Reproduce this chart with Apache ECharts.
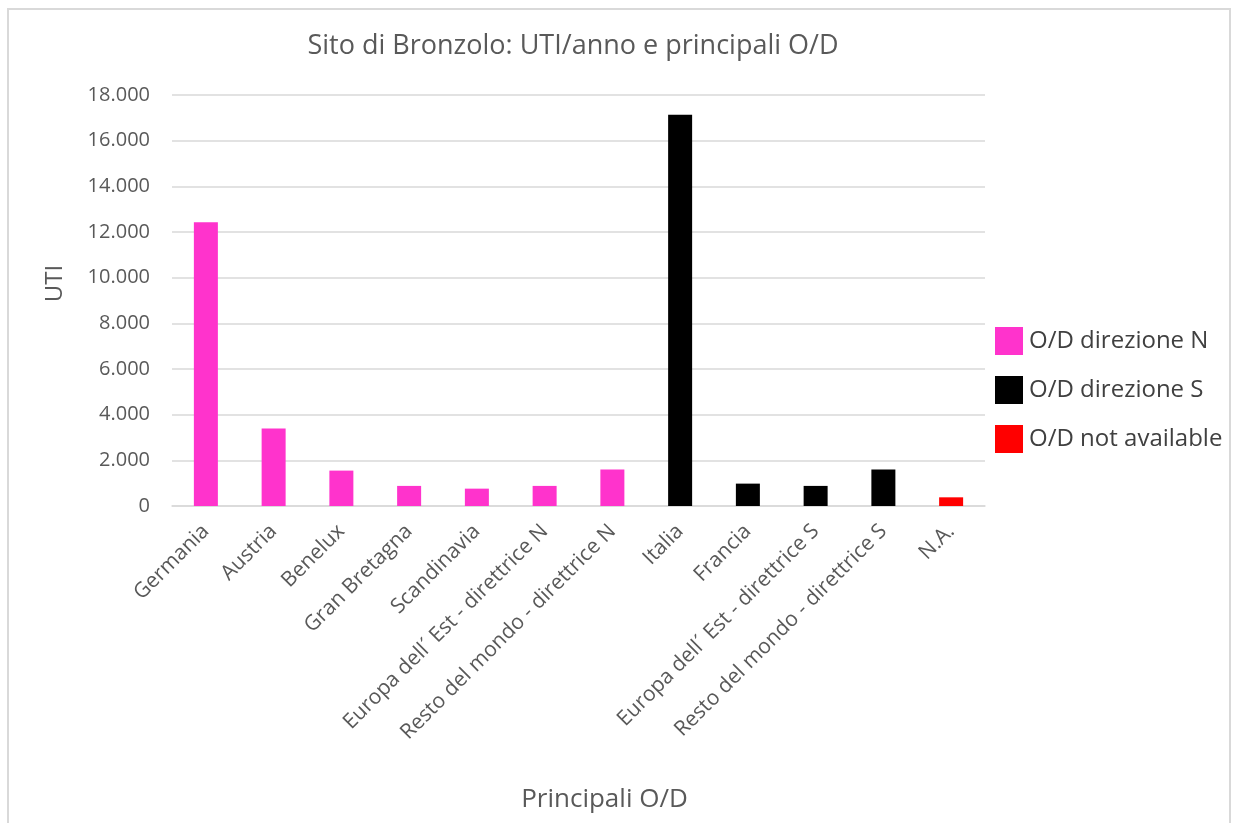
<!DOCTYPE html>
<html>
<head>
<meta charset="utf-8">
<script src="https://cdn.jsdelivr.net/npm/echarts@6/dist/echarts.min.js"></script>
<style>
  html, body { margin: 0; padding: 0; background: #fff; }
  #chart { width: 1234px; height: 823px; }
</style>
</head>
<body>
<div id="chart"></div>
<script>
// Origini/destinazioni principali del sito di Bronzolo
const categories = [
  'Germania', 'Austria', 'Benelux', 'Gran Bretagna', 'Scandinavia',
  'Europa dell\u00b4 Est - direttrice N', 'Resto del mondo - direttrice N',
  'Italia', 'Francia', 'Europa dell\u00b4 Est - direttrice S',
  'Resto del mondo - direttrice S', 'N.A.'
];

// UTI/anno per direzione (null dove la categoria non appartiene alla serie)
const direzioneN = [12430, 3390, 1550, 880, 760, 880, 1600, null, null, null, null, null];
const direzioneS = [null, null, null, null, null, null, null, 17140, 980, 880, 1600, null];
const notAvailable = [null, null, null, null, null, null, null, null, null, null, null, 380];

const seriesNames = ['O/D direzione N', 'O/D direzione S', 'O/D not available'];
const seriesColors = ['#ff33cc', '#000000', '#ff0000'];

const yTicks = { min: 0, max: 18000, interval: 2000 };

const fontFamily = '"Open Sans", "Noto Sans", sans-serif';
const textGray = '#595959';
const gridGray = '#d9d9d9';

const chart = echarts.init(document.getElementById('chart'), null, { renderer: 'canvas' });

const fmt = v => String(v).replace(/\B(?=(\d{3})+(?!\d))/g, '.');

const makeSeries = (name, data, color) => ({
  name,
  type: 'bar',
  stack: 'od',
  data,
  barWidth: 24,
  itemStyle: { color },
  emphasis: { disabled: true }
});

chart.setOption({
  animation: false,
  backgroundColor: '#ffffff',
  textStyle: { fontFamily },
  title: {
    text: 'Sito di Bronzolo: UTI/anno e principali O/D',
    left: 568,
    top: 28,
    textAlign: 'center',
    textStyle: { fontFamily, fontSize: 27, fontWeight: 'normal', color: textGray }
  },
  graphic: [{
    type: 'polyline',
    silent: true,
    shape: { points: [[8, 823], [8, 9], [1230, 9], [1230, 823]] },
    style: { stroke: gridGray, lineWidth: 2, fill: null }
  }],
  legend: {
    orient: 'vertical',
    left: 990,
    top: 322,
    itemWidth: 28,
    itemHeight: 28,
    itemGap: 21,
    icon: 'rect',
    data: seriesNames,
    textStyle: { fontFamily, fontSize: 24, color: '#404040', padding: [0, 0, 0, 1] }
  },
  grid: { left: 172, right: 249, top: 95, bottom: 317, containLabel: false },
  xAxis: {
    type: 'category',
    data: categories,
    name: 'Principali O/D',
    nameLocation: 'middle',
    nameGap: 281,
    nameTextStyle: { fontFamily, fontSize: 26, color: textGray, padding: [0, 0, 0, 52] },
    axisLine: { show: true, lineStyle: { color: gridGray, width: 1.5 } },
    axisTick: { show: false },
    axisLabel: {
      rotate: 45,
      interval: 0,
      margin: 22,
      fontFamily,
      fontSize: 21,
      color: textGray
    }
  },
  yAxis: {
    type: 'value',
    min: yTicks.min,
    max: yTicks.max,
    interval: yTicks.interval,
    name: 'UTI',
    nameLocation: 'middle',
    nameGap: 105,
    nameRotate: 90,
    nameTextStyle: { fontFamily, fontSize: 24, color: textGray, padding: [0, 0, 0, 34] },
    axisLine: { show: false },
    axisTick: { show: false },
    axisLabel: {
      fontFamily,
      fontSize: 20,
      color: textGray,
      margin: 22,
      formatter: fmt
    },
    splitLine: { lineStyle: { color: gridGray, width: 1.5 } }
  },
  series: [
    makeSeries(seriesNames[0], direzioneN, seriesColors[0]),
    makeSeries(seriesNames[1], direzioneS, seriesColors[1]),
    makeSeries(seriesNames[2], notAvailable, seriesColors[2])
  ]
});
</script>
</body>
</html>
